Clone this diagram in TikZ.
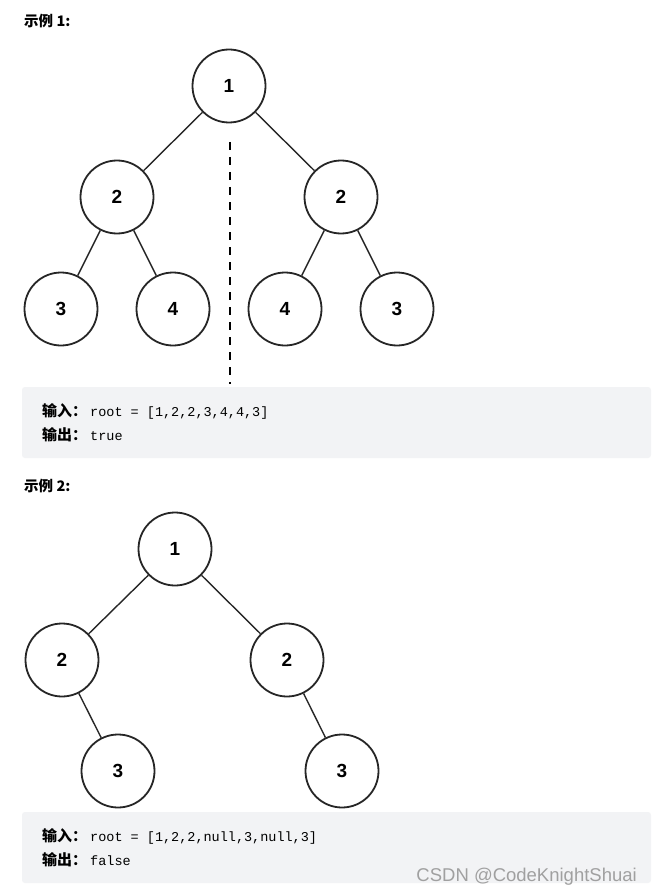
\documentclass[tikz,border=0pt]{standalone}
\usepackage{fontspec}
\setmainfont{Liberation Sans}
\setmonofont{Liberation Mono}
\newfontfamily\cjk{Noto Sans CJK SC}
\definecolor{codebg}{RGB}{242,243,245}
\definecolor{wm}{RGB}{160,160,160}
\newcommand{\lbl}[1]{{\fontsize{15}{15}\selectfont\cjk\bfseries #1}\hspace{3pt}}
\begin{document}
\begin{tikzpicture}[x=1pt,y=-1pt,
  tn/.style={circle,draw=black!85,line width=1.8pt,minimum size=73pt,inner sep=0pt,font=\fontsize{19}{19}\selectfont\bfseries},
  edge/.style={draw=black!85,line width=1.4pt},
  heading/.style={anchor=west,inner sep=0pt,font=\fontsize{14.5}{14.5}\selectfont\cjk\bfseries},
  code/.style={anchor=west,inner sep=0pt,font=\fontsize{13.5}{13.5}\selectfont\ttfamily},
  box/.style={fill=codebg,rounded corners=3pt}]
\useasboundingbox (0,0) rectangle (651,896);
\fill[white] (0,0) rectangle (651,896);

% Example 1
\node[heading] (h1) at (24,21) {示例 1:};
\node[tn] (a1) at (229,86) {1};
\node[tn] (a2) at (117,197) {2};
\node[tn] (a3) at (341,197) {2};
\node[tn] (a4) at (61,309) {3};
\node[tn] (a5) at (173,309) {4};
\node[tn] (a6) at (285,309) {4};
\node[tn] (a7) at (397,309) {3};
\draw[edge] (a1) -- (a2);
\draw[edge] (a1) -- (a3);
\draw[edge] (a2) -- (a4);
\draw[edge] (a2) -- (a5);
\draw[edge] (a3) -- (a6);
\draw[edge] (a3) -- (a7);
\coordinate (d1) at (230,142);
\coordinate (d2) at (230,384);
\draw[line width=2.2pt,dash pattern=on 8pt off 7pt] (d1) -- (d2);

\fill[box] (22,387) rectangle (651,458);
\node[code] (in1) at (42,411) {\lbl{输入：}root = [1,2,2,3,4,4,3]};
\node[code] (out1) at (42,435) {\lbl{输出：}true};

% Example 2
\node[heading] (h2) at (24,486) {示例 2:};
\node[tn] (b1) at (175,549) {1};
\node[tn] (b2) at (62,660) {2};
\node[tn] (b3) at (287,660) {2};
\node[tn] (b4) at (118,771) {3};
\node[tn] (b5) at (342,771) {3};
\draw[edge] (b1) -- (b2);
\draw[edge] (b1) -- (b3);
\draw[edge] (b2) -- (b4);
\draw[edge] (b3) -- (b5);

\fill[box] (22,812) rectangle (651,883);
\node[code] (in2) at (42,836) {\lbl{输入：}root = [1,2,2,null,3,null,3]};
\node[code] (out2) at (42,860) {\lbl{输出：}false};

\node[anchor=east,inner sep=0pt,text=wm,font=\fontsize{18.5}{18.5}\selectfont] (wmk) at (637,877) {CSDN @CodeKnightShuai};
\end{tikzpicture}
\end{document}
